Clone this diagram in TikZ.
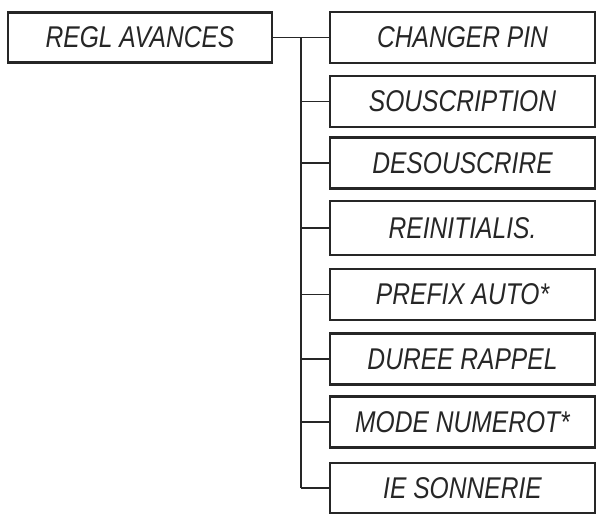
\documentclass[tikz,border=0pt]{standalone}
\usepackage{fontspec}
\newfontfamily\lcd{Liberation Sans}[FakeStretch=0.82]
\begin{document}
\begin{tikzpicture}[x=1pt,y=-1pt,
  menubox/.style={draw=black!85,line width=2.2pt,minimum width=265pt,minimum height=51pt,inner sep=0pt,font=\lcd\itshape\fontsize{30}{31}\selectfont,text=black!85},
  link/.style={draw=black!85,line width=1.6pt}]
\useasboundingbox (0,0) rectangle (601,515);
\node[menubox,minimum width=264pt,minimum height=50pt] (main) at (140,37.5) {REGL AVANCES};
\node[menubox] (b1) at (462.5,37.5) {CHANGER PIN};
\node[menubox] (b2) at (462.5,101.5) {SOUSCRIPTION};
\node[menubox] (b3) at (462.5,163) {DESOUSCRIRE};
\node[menubox,minimum height=54pt] (b4) at (462.5,228) {REINITIALIS.};
\node[menubox] (b5) at (462.5,294.5) {PREFIX AUTO*};
\node[menubox] (b6) at (462.5,359) {DUREE RAPPEL};
\node[menubox] (b7) at (462.5,422) {MODE NUMEROT*};
\node[menubox,minimum height=50pt] (b8) at (462.5,488) {IE SONNERIE};
\coordinate (trunk) at (301,0);
\draw[link] (main.east) -- (b1.west);
\draw[link] (trunk |- b1.west) -- (trunk |- b8.west);
\foreach \i in {2,...,8} {\draw[link] (trunk |- b\i.west) -- (b\i.west);}
\end{tikzpicture}
\end{document}
